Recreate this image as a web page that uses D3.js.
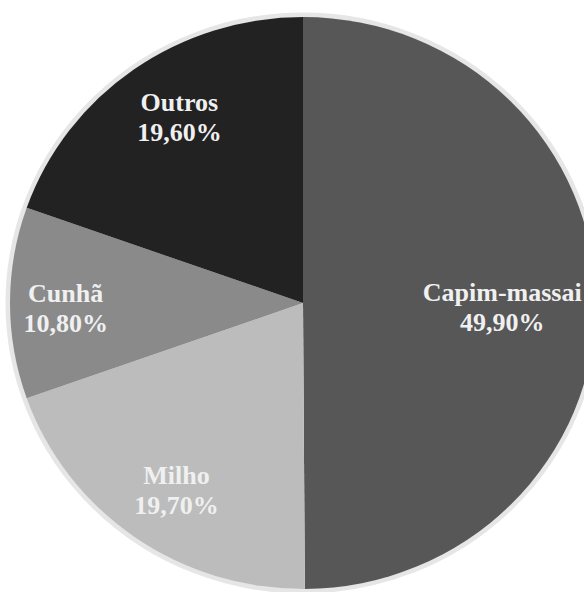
<!DOCTYPE html>
<html>
<head>
<meta charset="utf-8">
<script src="https://cdn.jsdelivr.net/npm/d3@7"></script>
<style>
    html, body { margin: 0; padding: 0; background: #ffffff; overflow: hidden; }
    .label { font-family: "Liberation Serif", "Times New Roman", serif; font-weight: bold; font-size: 26px; fill: #f0f0f0; }
</style>
</head>
<body>
<div id="chart"></div>
<script>
// slices, clockwise from 12 o'clock
var categories = ["Capim-massai", "Milho", "Cunhã", "Outros"];
var percents = [49.9, 19.7, 10.8, 19.6];
var percentLabels = ["49,90%", "19,70%", "10,80%", "19,60%"];

var width = 584,
    height = 592;

// the pie in the picture is a touch wider than tall
var cx = 303, cy = 303,
    radius = 286,
    sx = 293 / 286;

var color = d3.scaleOrdinal()
    .domain(categories)
    .range(["#575757", "#bcbcbc", "#8a8a8a", "#222222"]);

// where each label sits, as a fraction of the radius plus a small turn in degrees
var labelPlace = {
    "Capim-massai": { r: 0.68, turn: 0 },
    "Milho": { r: 0.77, turn: -1 },
    "Cunhã": { r: 0.81, turn: 0 },
    "Outros": { r: 0.79, turn: 3 }
};

var data = categories.map(function (c, i) {
    return { name: c, value: percents[i], label: percentLabels[i] };
});

var svg = d3.select("#chart").append("svg")
    .attr("width", width)
    .attr("height", height);

var g = svg.append("g")
    .attr("transform", "translate(" + cx + "," + cy + ")");

var pie = d3.pie()
    .sort(null)
    .value(function (d) { return d.value; });

var arc = d3.arc()
    .innerRadius(0)
    .outerRadius(radius);

var arcs = pie(data);

// faint light ring around the disc
g.append("ellipse")
    .attr("rx", radius * sx + 2)
    .attr("ry", radius + 2)
    .attr("fill", "none")
    .attr("stroke", "#e6e6e6")
    .attr("stroke-width", 5);

g.append("g")
    .attr("transform", "scale(" + sx + ",1)")
    .selectAll("path")
    .data(arcs)
    .enter()
    .append("path")
    .attr("d", arc)
    .attr("fill", function (d) { return color(d.data.name); });

var labels = g.selectAll(".label")
    .data(arcs)
    .enter()
    .append("text")
    .attr("class", "label")
    .attr("text-anchor", "middle")
    .attr("transform", function (d) {
        var p = labelPlace[d.data.name];
        var a = (d.startAngle + d.endAngle) / 2 + p.turn * Math.PI / 180;
        var x = Math.sin(a) * radius * p.r * sx,
            y = -Math.cos(a) * radius * p.r;
        return "translate(" + x + "," + y + ")";
    });

labels.append("tspan")
    .attr("x", 0)
    .attr("y", -1)
    .text(function (d) { return d.data.name; });

labels.append("tspan")
    .attr("x", 0)
    .attr("y", 29)
    .text(function (d) { return d.data.label; });
</script>
</body>
</html>
